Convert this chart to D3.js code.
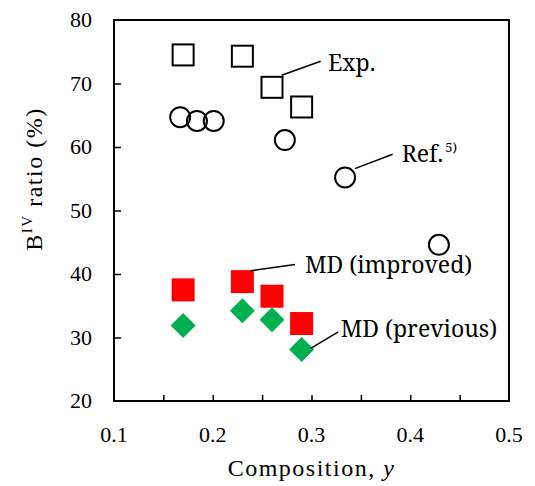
<!DOCTYPE html>
<html>
<head>
<meta charset="utf-8">
<script src="https://cdn.jsdelivr.net/npm/d3@7"></script>
<style>
  body { margin: 0; background: #fff; }
  .tk { font-family: "Liberation Serif", "Times New Roman", Times, serif; }
  .nt { font-family: "Noto Serif", "DejaVu Serif", serif; }
</style>
</head>
<body>
<svg id="chart" width="535" height="486"></svg>
<script>
// composition y for each series
var expY = [0.170, 0.230, 0.260, 0.290];
var expRatio = [74.5, 74.3, 69.4, 66.3];

var refY = [0.167, 0.184, 0.201, 0.273, 0.334, 0.429];
var refRatio = [64.7, 64.1, 64.1, 61.1, 55.2, 44.6];

var mdImpY = [0.170, 0.230, 0.260, 0.290];
var mdImpRatio = [37.5, 38.8, 36.5, 32.2];

var mdPrevY = [0.170, 0.230, 0.260, 0.290];
var mdPrevRatio = [31.9, 34.2, 32.8, 28.1];

var xTicks = [0.1, 0.2, 0.3, 0.4, 0.5];
var xMinorTicks = [0.15, 0.2, 0.25, 0.3, 0.35, 0.4, 0.45];
var yTicks = [20, 30, 40, 50, 60, 70, 80];

var W = 535, H = 486;
var margin = {left: 114, right: 26, top: 20, bottom: 85};

var svg = d3.select('#chart');

var x = d3.scaleLinear().domain([0.1, 0.5]).range([margin.left, W - margin.right]);
var y = d3.scaleLinear().domain([20, 80]).range([H - margin.bottom, margin.top]);

// frame
svg.append('rect')
    .attr('x', x(0.1)).attr('y', y(80))
    .attr('width', x(0.5) - x(0.1))
    .attr('height', y(20) - y(80))
    .attr('fill', 'none')
    .attr('stroke', '#000')
    .attr('stroke-width', 2);

// x axis, ticks inside
var xAxis = svg.append('g')
    .attr('transform', 'translate(0,' + y(20) + ')')
    .call(d3.axisBottom(x).tickValues(xMinorTicks).tickSize(-6).tickFormat(''));
xAxis.select('.domain').remove();
xAxis.selectAll('line').attr('stroke-width', 1.5);

svg.append('g').selectAll('text')
    .data(xTicks)
    .enter().append('text')
    .attr('class', 'tk')
    .attr('x', function (d) { return x(d); })
    .attr('y', y(20) + 41)
    .attr('text-anchor', 'middle')
    .attr('font-size', 22)
    .text(function (d) { return d3.format('.1f')(d); });

// y axis, ticks inside
var yAxis = svg.append('g')
    .attr('transform', 'translate(' + x(0.1) + ',0)')
    .call(d3.axisLeft(y).tickValues(yTicks.slice(1, -1)).tickSize(-7).tickFormat(''));
yAxis.select('.domain').remove();
yAxis.selectAll('line').attr('stroke-width', 1.5);

svg.append('g').selectAll('text')
    .data(yTicks)
    .enter().append('text')
    .attr('class', 'tk')
    .attr('x', x(0.1) - 22)
    .attr('y', function (d) { return y(d) + 7; })
    .attr('text-anchor', 'end')
    .attr('font-size', 22)
    .text(function (d) { return d; });

// axis titles
var xt = svg.append('text')
    .attr('class', 'tk')
    .attr('x', (x(0.1) + x(0.5)) / 2)
    .attr('y', 476)
    .attr('text-anchor', 'middle')
    .attr('font-size', 24)
    .attr('letter-spacing', 1.5);
xt.append('tspan').text('Composition, ');
xt.append('tspan').attr('font-style', 'italic').text('y');

var yt = svg.append('text')
    .attr('class', 'tk')
    .attr('transform', 'translate(42,179) rotate(-90)')
    .attr('text-anchor', 'middle')
    .attr('font-size', 24)
    .attr('letter-spacing', 1.5);
yt.append('tspan').text('B');
yt.append('tspan').attr('font-size', 15).attr('dy', -10).text('IV');
yt.append('tspan').attr('dy', 10).text(' ratio (%)');

// series
function pairs(xs, ys) {
    return xs.map(function (v, i) { return {x: v, y: ys[i]}; });
}

var plot = svg.append('g');

plot.selectAll('.ref')
    .data(pairs(refY, refRatio))
    .enter().append('circle')
    .attr('class', 'ref')
    .attr('cx', function (d) { return x(d.x); })
    .attr('cy', function (d) { return y(d.y); })
    .attr('r', 10)
    .attr('fill', 'none')
    .attr('stroke', '#000')
    .attr('stroke-width', 2);

var sq = 21;
plot.selectAll('.exp')
    .data(pairs(expY, expRatio))
    .enter().append('rect')
    .attr('class', 'exp')
    .attr('x', function (d) { return x(d.x) - sq / 2; })
    .attr('y', function (d) { return y(d.y) - sq / 2; })
    .attr('width', sq).attr('height', sq)
    .attr('fill', 'none')
    .attr('stroke', '#000')
    .attr('stroke-width', 2);

plot.selectAll('.mdimp')
    .data(pairs(mdImpY, mdImpRatio))
    .enter().append('rect')
    .attr('class', 'mdimp')
    .attr('x', function (d) { return x(d.x) - 11.5; })
    .attr('y', function (d) { return y(d.y) - 11.5; })
    .attr('width', 23).attr('height', 23)
    .attr('fill', '#ff0000');

var dia = 12.5;
plot.selectAll('.mdprev')
    .data(pairs(mdPrevY, mdPrevRatio))
    .enter().append('path')
    .attr('class', 'mdprev')
    .attr('d', function (d) {
        var cx = x(d.x), cy = y(d.y);
        return 'M' + cx + ',' + (cy - dia) + 'L' + (cx + dia) + ',' + cy +
               'L' + cx + ',' + (cy + dia) + 'L' + (cx - dia) + ',' + cy + 'Z';
    })
    .attr('fill', '#00b050');

// callouts: leader line and label position, in data coords
var notes = [
    {text: 'Exp.', from: [0.2698, 71.3], to: [0.3093, 73.5], at: [0.3167, 72.0], sup: null},
    {text: 'Ref.', from: [0.344, 56.6], to: [0.3822, 58.85], at: [0.3913, 57.6], sup: '5)'},
    {text: 'MD (improved)', from: [0.2384, 40.5], to: [0.2833, 41.5], at: [0.2934, 40.2], sup: null},
    {text: 'MD (previous)', from: [0.2992, 28.3], to: [0.3271, 30.9], at: [0.3296, 30.1], sup: null}
];

notes.forEach(function (n) {
    svg.append('line')
        .attr('x1', x(n.from[0])).attr('y1', y(n.from[1]))
        .attr('x2', x(n.to[0])).attr('y2', y(n.to[1]))
        .attr('stroke', '#000')
        .attr('stroke-width', 1.5);
    var t = svg.append('text')
        .attr('class', 'nt')
        .attr('x', x(n.at[0]))
        .attr('y', y(n.at[1]))
        .attr('font-size', 23)
        .text(n.text);
    if (n.sup) {
        t.append('tspan')
            .attr('font-size', 13)
            .attr('dy', -10)
            .attr('dx', 2)
            .text(n.sup);
    }
});
</script>
</body>
</html>
